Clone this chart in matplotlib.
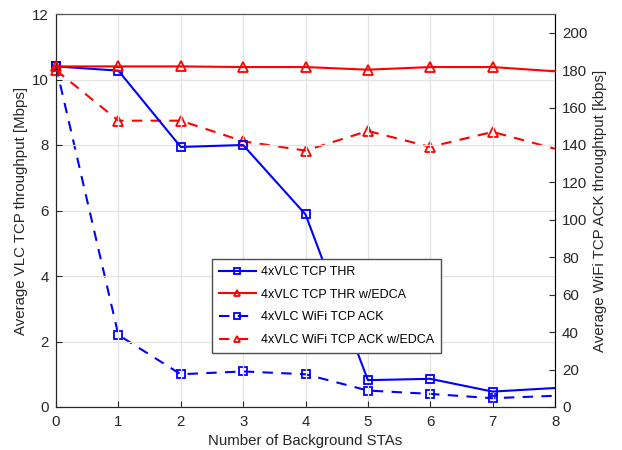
import matplotlib
matplotlib.use("Agg")
import matplotlib.pyplot as plt
import numpy as np

plt.rcParams['font.family'] = ['Liberation Sans', 'DejaVu Sans']

stas = [0, 1, 2, 3, 4, 5, 6, 7, 8]
thr = [10.4, 10.27, 7.94, 8.0, 5.88, 0.82, 0.86, 0.47, 0.58]
thr_edca = [10.4, 10.4, 10.4, 10.38, 10.38, 10.3, 10.38, 10.38, 10.25]
ack = [182, 38.5, 17.5, 19.0, 17.5, 8.8, 7.0, 4.7, 6.0]
ack_edca = [180, 153, 153, 142, 137, 147.5, 139, 147, 138]

fig = plt.figure(figsize=(6.22, 4.5), dpi=100)
ax = fig.add_axes([56/622, 43/450, 499/622, 393/450])
ax2 = ax.twinx()

blue = '#0000ff'
red = '#ff0000'
fs = 10.8
mk = list(range(len(stas) - 1))

l1, = ax.plot(stas, thr, '-', color=blue, lw=1.5, marker='s', ms=5.5, mfc='none', mew=1.3,
              markevery=mk, label='4xVLC TCP THR', clip_on=False, zorder=3)
l2, = ax.plot(stas, thr_edca, '-', color=red, lw=1.5, marker='^', ms=7, mfc='none', mew=1.3,
              markevery=mk, label='4xVLC TCP THR w/EDCA', clip_on=False, zorder=3)
l3, = ax2.plot(stas, ack, '--', color=blue, lw=1.5, marker='s', ms=5.5, mfc='none', mew=1.3,
               markevery=mk, label='4xVLC WiFi TCP ACK', dashes=(5, 4), clip_on=False)
l4, = ax2.plot(stas, ack_edca, '--', color=red, lw=1.5, marker='^', ms=7, mfc='none', mew=1.3,
               markevery=mk, label='4xVLC WiFi TCP ACK w/EDCA', dashes=(5, 4), clip_on=False)

ax.set_xlim(0, 8)
ax.set_ylim(0, 12)
ax2.set_ylim(0, 210)
ax.set_xticks(range(0, 9))
ax.set_yticks(range(0, 13, 2))
ax2.set_yticks(range(0, 201, 20))
ax.grid(True, color='#e3e3e3', lw=0.9)
ax.set_axisbelow(True)

ax.tick_params(axis='x', direction='in', labelsize=fs, length=4, top=False, colors='#262626', pad=6)
ax.tick_params(axis='y', direction='in', labelsize=fs, length=4, colors='#262626', pad=5)
ax2.tick_params(direction='in', labelsize=fs, length=4, colors='#262626', pad=5)
ax.set_xlabel('Number of Background STAs', fontsize=fs, color='#262626', labelpad=3)
ax.set_ylabel('Average VLC TCP throughput [Mbps]', fontsize=fs, color='#262626', labelpad=3)
ax2.set_ylabel('Average WiFi TCP ACK throughtput [kbps]', fontsize=fs, color='#262626', labelpad=4)

for s in ['left', 'bottom']:
    ax.spines[s].set_color('#262626')
ax.spines['top'].set_color('#555555')
ax2.spines['top'].set_color('#555555')
ax2.spines['right'].set_color('#555555')

leg = ax.legend(handles=[l1, l2, l3, l4], loc='lower left', bbox_to_anchor=(0.312, 0.138),
                fontsize=9, fancybox=False, edgecolor='#4d4d4d', framealpha=1,
                markerscale=0.7, handlelength=3.0, handletextpad=0.4,
                borderpad=0.55, labelspacing=0.85, borderaxespad=0)
leg.get_frame().set_linewidth(1.0)
leg.set_zorder(10)
ax.set_zorder(ax2.get_zorder() + 1)
ax.patch.set_visible(False)

fig.savefig('out.png', dpi=100)
